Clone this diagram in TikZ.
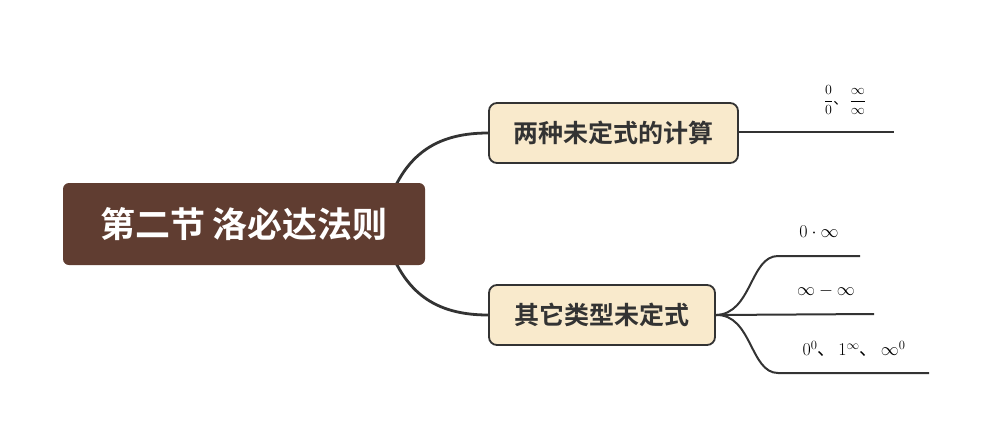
\RequirePackage{fix-cm}
\documentclass[tikz,border=0pt]{standalone}
\usepackage{amsmath}
\usepackage{fontspec}
\newfontfamily\cjk{Noto Sans CJK SC}[BoldFont={Noto Sans CJK SC Bold}]
\usetikzlibrary{positioning}
\definecolor{rootbrown}{RGB}{96,61,49}
\definecolor{topiccream}{RGB}{249,234,204}
\definecolor{linegray}{RGB}{51,51,51}

\begin{document}
\begin{tikzpicture}[x=1pt, y=-1pt, root/.style={fill=rootbrown, rounded corners=6pt, minimum width=362pt, minimum height=82pt, text=white, font=\cjk\bfseries\fontsize{35}{40}\selectfont}, topic/.style={draw=linegray, line width=1.8pt, fill=topiccream, rounded corners=8pt, minimum height=60pt, text=linegray, font=\cjk\bfseries\fontsize{25}{29}\selectfont}, branch/.style={draw=linegray, line width=2.8pt, line cap=round}, twig/.style={draw=linegray, line width=2pt}, leaf/.style={text=black, font=\fontsize{18}{21}\selectfont, inner sep=1pt}]

  \useasboundingbox (0,0) rectangle (992,437);

  \node[topic, minimum width=249pt] (calc) at (613.5,133) {两种未定式的计算};
  \node[topic, minimum width=226pt] (other) at (602,315) {其它类型未定式};

  \coordinate (hub) at (382,224);
  \draw[branch] (hub) .. controls (398,160) and (430,133) .. (calc.west);
  \draw[branch] (hub) .. controls (398,288) and (430,315) .. (other.west);

  \node[root] (lhopital) at (244,224) {第二节 洛必达法则};

  \coordinate (fracend) at (894,132);
  \draw[twig] (calc.east |- fracend) -- (fracend);
  \node[leaf, font=\fontsize{14}{17}\selectfont] (frac) at (845,100) {$\dfrac{0}{0}$\cjk 、\,$\dfrac{\infty}{\infty}$};

  \coordinate (prodstart) at (778,256);
  \coordinate (prodend) at (860,256);
  \coordinate (diffend) at (874,314);
  \coordinate (powerstart) at (778,373);
  \coordinate (powerend) at (929,373);
  \draw[twig] (other.east) .. controls (752,314) and (750,256) .. (prodstart) -- (prodend);
  \draw[twig] (other.east) -- (diffend);
  \draw[twig] (other.east) .. controls (752,314) and (750,373) .. (powerstart) -- (powerend);

  \node[leaf] (prod) at (819,232) {$0\cdot\infty$};
  \node[leaf] (diff) at (826,291) {$\infty-\infty$};
  \node[leaf] (power) at (854,349) {$0^0$\cjk 、\,$1^\infty$\cjk 、\,$\infty^0$};
\end{tikzpicture}
\end{document}
